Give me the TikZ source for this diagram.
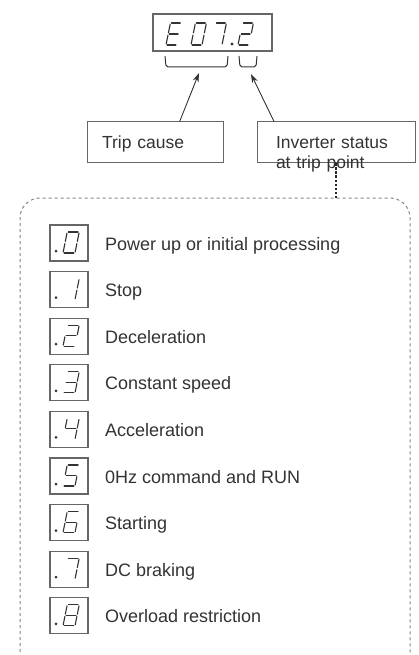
\documentclass[tikz,border=0pt]{standalone}
\usepackage{fontspec}
\setmainfont{Liberation Sans}
\usetikzlibrary{positioning,arrows.meta,calc}
\definecolor{ink}{HTML}{333333}
\definecolor{frame}{HTML}{666666}
\definecolor{faint}{HTML}{858585}
\tikzset{
  display/.style={rectangle, draw=frame, line width=1.1pt, minimum width=119pt,
                  minimum height=37pt, inner sep=0pt},
  tagbox/.style={rectangle, draw=frame, line width=1pt, minimum height=41pt,
                 inner ysep=0pt, align=left, text=ink, text depth=0pt,
                 font=\fontsize{17.5}{20}\selectfont},
  digitbox/.style={rectangle, draw=frame, line width=1.1pt, minimum width=38pt,
                   minimum height=36pt, inner sep=0pt},
  statetext/.style={anchor=base west, inner sep=0pt, text=ink,
                    font=\fontsize{18}{20}\selectfont},
  segline/.style={draw=ink, line width=1.1pt, line cap=round},
  brace/.style={draw=ink, line width=1pt, rounded corners=2pt},
  pointer/.style={-{Stealth[length=9pt,width=6pt]}, draw=ink, line width=0.9pt},
  leader/.style={draw=black!85, line width=1.4pt, dash pattern=on 2.2pt off 1.8pt},
  listframe/.style={draw=faint, line width=1pt, dash pattern=on 3pt off 3pt,
                    rounded corners=20pt}
}
% seven-segment glyphs: pairs of corner names
\def\segE{tl/tr,tl/ml,ml/mr,ml/bl,bl/br}
\def\segO{tl/tr,tr/mr,mr/br,br/bl,bl/ml,ml/tl}
\def\segI{tr/mr,mr/br}
\def\segII{tl/tr,tr/mr,mr/ml,ml/bl,bl/br}
\def\segIII{tl/tr,tr/mr,mr/ml,mr/br,br/bl}
\def\segIV{tl/ml,ml/mr,tr/mr,mr/br}
\def\segV{tr/tl,tl/ml,ml/mr,mr/br,br/bl}
\def\segVI{tr/tl,tl/ml,ml/bl,bl/br,br/mr,mr/ml}
\def\segVII{tl/tr,tr/mr,mr/br}
\def\segVIII{tl/tr,tr/mr,mr/br,br/bl,bl/ml,ml/tl,ml/mr}
\newcommand{\segchar}[4]{%
  \begin{scope}[shift={#1}, xslant=0.2, x=#3pt, y=#4pt]
    \coordinate (bl) at (0,0);   \coordinate (br) at (1,0);
    \coordinate (ml) at (0,0.5); \coordinate (mr) at (1,0.5);
    \coordinate (tl) at (0,1);   \coordinate (tr) at (1,1);
  \end{scope}
  \foreach \p/\q in #2 {\draw[segline] ($(\p)!1.1pt!(\q)$) -- ($(\q)!1.1pt!(\p)$);}
}
\newcommand{\boxdigit}[2]{%
  \segchar{($(#1)+(-6,10)$)}{#2}{12}{21}
  \fill[ink] ($(#1)+(-13,8)$) circle[radius=1.5pt];
}

\begin{document}
\begin{tikzpicture}[x=1pt,y=-1pt]
  \path[use as bounding box, fill=white] (0,0) rectangle (418,655);

  % trip display
  \node[display] (disp) at (212.5,32.5) {};
  \segchar{(166,45)}{\segE}{11}{22}
  \segchar{(191,45)}{\segO}{11}{22}
  \segchar{(211,45)}{\segVII}{11}{22}
  \fill[ink] (232,44) circle[radius=1.7pt];
  \segchar{(238,45)}{\segII}{11}{22}
  \draw[brace] (165,56) -- (166,67) -- (227,67) -- (228,56);
  \draw[brace] (239,56) -- (240,67) -- (256,67) -- (257,56);
  \coordinate (causetip) at (199,73);
  \coordinate (statustip) at (251,74);

  \node[tagbox, text width=106pt, inner xsep=15pt] (trip) at (155,142.5) {Trip cause};
  \node[tagbox, text width=120pt, inner xsep=19pt] (status) at (336,142.5)
    {Inverter status\\at trip point};
  \draw[pointer] ($(trip.north west)!0.68!(trip.north east)$) -- (causetip);
  \draw[pointer] ($(status.north west)!0.11!(status.north east)$) -- (statustip);

  % status list
  \coordinate (listtop) at (336,198);
  \draw[listframe] (20,670) -- (20,198) -- (410,198) -- (410,670);
  \draw[leader] (status.south) -- (listtop);

  \node[digitbox] (s0) at (69,243) {};
  \boxdigit{s0}{\segO}
  \node[statetext] (t0) at (105,250) {Power up or initial processing};

  \node[digitbox] (s1) at (69,289.6) {};
  \boxdigit{s1}{\segI}
  \node[statetext] (t1) at (105,296.6) {Stop};

  \node[digitbox] (s2) at (69,336.2) {};
  \boxdigit{s2}{\segII}
  \node[statetext] (t2) at (105,343.2) {Deceleration};

  \node[digitbox] (s3) at (69,382.8) {};
  \boxdigit{s3}{\segIII}
  \node[statetext] (t3) at (105,389.8) {Constant speed};

  \node[digitbox] (s4) at (69,429.4) {};
  \boxdigit{s4}{\segIV}
  \node[statetext] (t4) at (105,436.4) {Acceleration};

  \node[digitbox] (s5) at (69,476) {};
  \boxdigit{s5}{\segV}
  \node[statetext] (t5) at (105,483) {0Hz command and RUN};

  \node[digitbox] (s6) at (69,522.6) {};
  \boxdigit{s6}{\segVI}
  \node[statetext] (t6) at (105,529.6) {Starting};

  \node[digitbox] (s7) at (69,569.2) {};
  \boxdigit{s7}{\segVII}
  \node[statetext] (t7) at (105,576.2) {DC braking};

  \node[digitbox] (s8) at (69,615.8) {};
  \boxdigit{s8}{\segVIII}
  \node[statetext] (t8) at (105,622.8) {Overload restriction};
\end{tikzpicture}
\end{document}
